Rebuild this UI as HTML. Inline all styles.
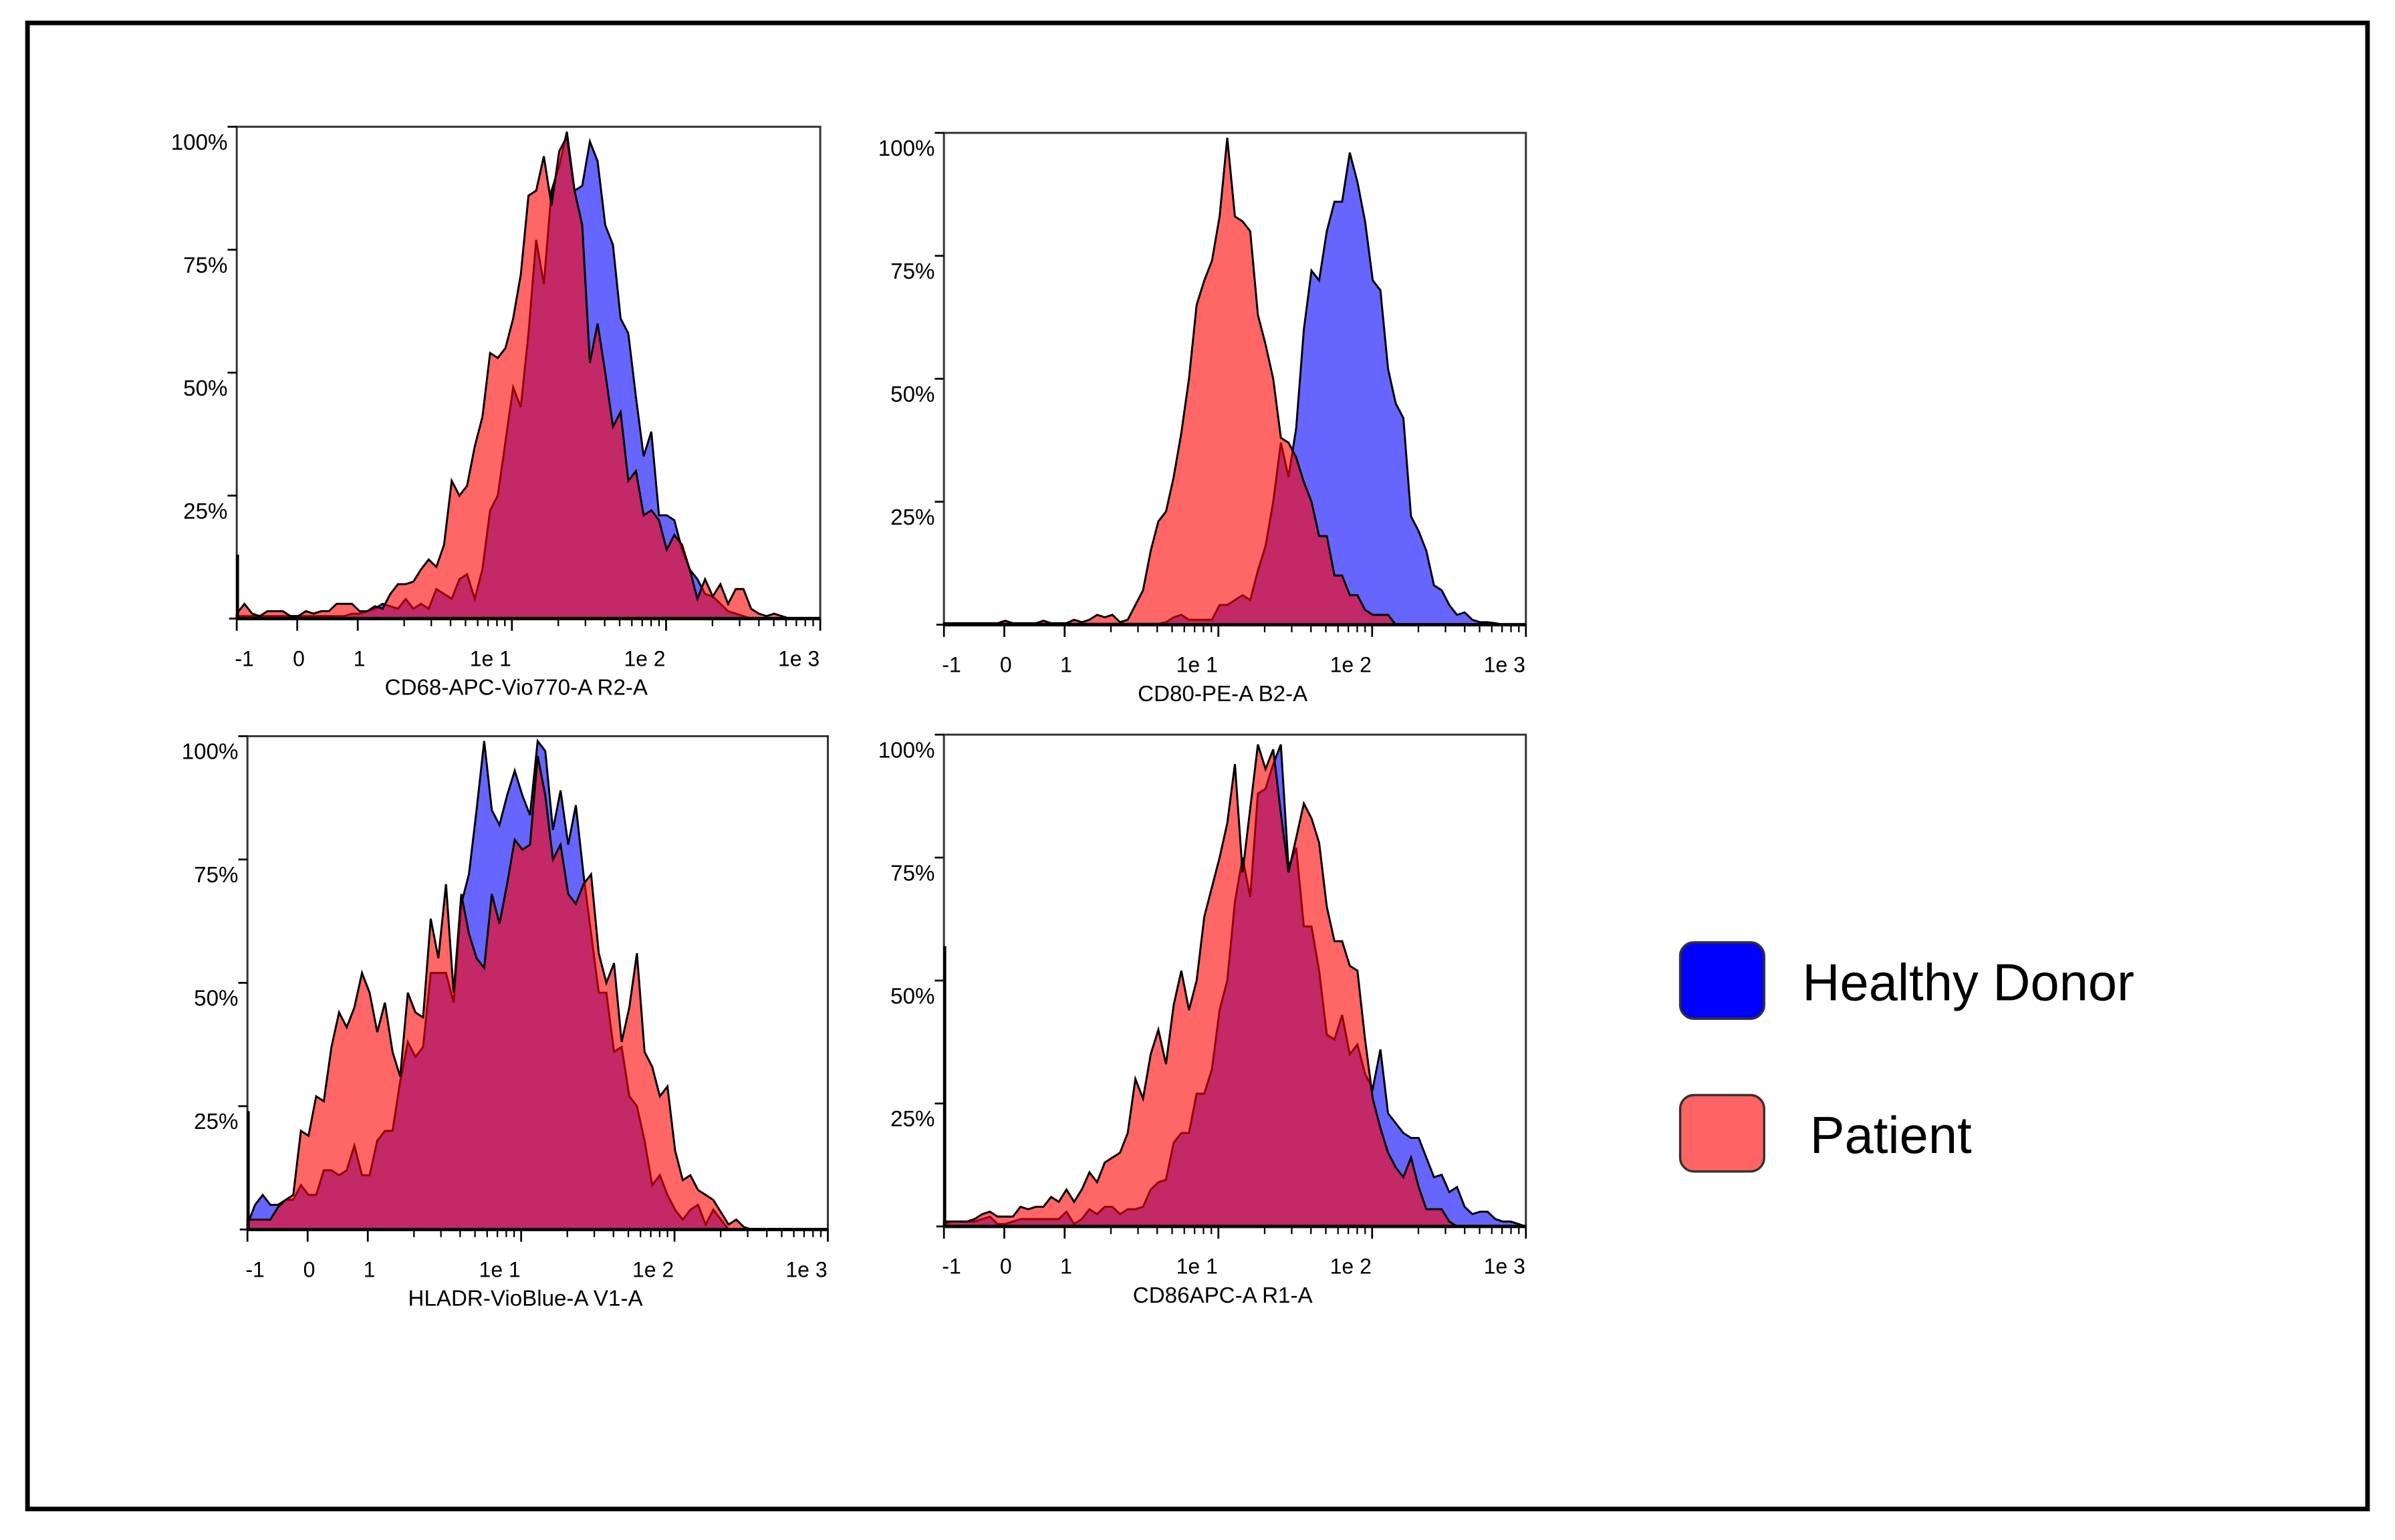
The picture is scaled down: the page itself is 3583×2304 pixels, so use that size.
<!DOCTYPE html>
<html><head><meta charset="utf-8">
<style>
html,body{margin:0;padding:0;background:#fff;}
svg{display:block;}
text{font-family:"Liberation Sans",sans-serif;fill:#000;}
</style></head>
<body>
<svg id="fig" xmlns="http://www.w3.org/2000/svg" width="3583" height="2304" viewBox="0 0 1568 1008.3" preserveAspectRatio="none">
<rect x="18" y="15" width="1532" height="973" fill="#fff" stroke="#000" stroke-width="3"/>
<g id="charts"></g>
<g>
<rect x="1100" y="617" width="55" height="50" rx="9" fill="#0000ff" stroke="#333" stroke-width="1.5"/>
<text x="1180" y="655" font-size="34">Healthy Donor</text>
<rect x="1100" y="717" width="55" height="50" rx="9" fill="#ff6464" stroke="#333" stroke-width="1.5"/>
<text x="1185" y="755" font-size="34">Patient</text>
</g>
</svg>
<script>
// bins: display-decade positions i*binStep from the left edge (value -1)
const binStep = 0.05;
const yTickValues = [25, 50, 75, 100];
const yTickLabels = ["25%", "50%", "75%", "100%"];
const xTickValues = [-1, 0, 1, 10, 100, 1000];
const xTickLabels = ["-1", "0", "1", "1e 1", "1e 2", "1e 3"];
const axisTitles = ["CD68-APC-Vio770-A R2-A", "CD80-PE-A B2-A", "HLADR-VioBlue-A V1-A", "CD86APC-A R1-A"];
const leftSpike = [13, 0, 24, 57];

const cd68Healthy = [0.5,0.5,0.5,0.5,0.5,0.5,0.5,0.5,0.5,0.5,0.5,0.5,0.5,0.5,0.5,1,1,1.5,2,3,2.5,2,4,2,3,2,6,5,4,8,9,4,10,22,25,36,47,43,58,77,68,87,92,99,87,88,97,93,80,76,61,58,45,33,38,21,21,20,14,10,8,5,4.5,3,1.5,1,0.5,0,0,0,0,0,0,0,0,0,0];
const cd68Patient = [1,3,1,0.5,1.5,1.5,1.5,0.5,0.5,1.5,1,1.5,1.5,3,3,3,1.5,1.5,2.5,2,5,7,7,7.5,10,12,10.5,15,28,25,27,35,41,54,53,55,61,70,86,87,94,84,95,98,87,80,52,60,50,39,42,28,30,21,22,20,14,17,15,10,4,8,4.5,7,3,6,6,2,1,0.5,1,0.5,0,0,0,0,0];
const cd80Healthy = [0.2,0.2,0.2,0.2,0.2,0.2,0.2,0.2,0.2,0.2,0.2,0.2,0.2,0.2,0.2,0.2,0.2,0.2,0.2,0.2,0.2,0.2,0.2,0.2,0.2,0.2,0.2,0.2,0.2,0.5,1.5,2,1,1,1,1,4,4,5,6,5,11,16,25,37,30,40,60,72,70,80,86,86,96,90,82,70,68,52,45,42,22,19,15,8,7,4,2,2.5,1,0.5,0.5,0.3,0,0,0,0];
const cd80Patient = [0.3,0.3,0.3,0.3,0.3,0.3,0.3,0.3,0.8,0.3,0.3,0.3,0.3,0.8,0.3,0.3,0.3,1,0.5,1,2,1.5,2,0.5,1,4,7,15,21,23,30,39,50,65,70,74,83,99,83,82,80,63,57,50,38,37,34,29,25,18,18,10,10,6,6,3,2,2,2,0,0,0,0,0,0,0,0,0,0,0,0,0,0,0,0,0,0];
const hladrHealthy = [1,5,7,5,5,6,6,9,7,7,12,12,11,12,17,11,11,18,20,20,30,38,35,37,52,52,52,46,66,72,85,99,85,82,88,93,88,84,99,97,81,89,78,86,72,60,48,48,36,37,27,25,18,9,11,7,4,2,4,5,1,4,2,0,0,0,0,0,0,0,0,0,0,0,0,0,0];
const hladrPatient = [2,2,2,2,4.5,6,7,20,19,27,26,37,44,41,45,52,48,40,46,36,31,48,44,43,63,55,70,48,68,60,55,53,68,62,70,79,77,78,96,88,75,78,68,66,70,72,56,50,54,38,45,56,36,33,27,29,16,10,11,8,7,6,3.5,1,2,0.5,0,0,0,0,0,0,0,0,0,0,0];
const cd86Healthy = [0.5,1,1,1,1,1.5,2,0.5,0.5,1,1.5,1.5,1.5,1.5,1.5,1.5,3,0.5,1.5,3.5,2.5,4,4,2.5,3.5,3.5,4,7.5,9,9.5,17,19,19,27,27,32,44,50,66,75,67,88,89,94,98,73,77,61,61,52,39,38,43,35,37,31,28,36,23,21,19,18,18,14,10,10.5,7,8,4,2.5,3,3,1.5,1,1,0.5,0];
const cd86Patient = [1,1,1,1,1.5,2.5,3,2,2,2,4,3.5,4,4,6,5,7.5,5,7.5,11,9,13,14,15,19,30,26,35,40,33,45,52,44,50,63,69,75,82,94,72,85,98,93,97,84,72,79,86,83,78,65,58,58,53,52,38,26,20,15,12,10,14,8,3.5,3.5,3.5,1,0,0,0,0,0,0,0,0,0,0];

const healthySeries = [cd68Healthy, cd80Healthy, hladrHealthy, cd86Healthy];
const patientSeries = [cd68Patient, cd80Patient, hladrPatient, cd86Patient];

const NS = "http://www.w3.org/2000/svg";
const boxes = [
  {L:155,R:537,T:83,B:405},
  {L:618,R:999,T:87,B:409},
  {L:162,R:542,T:482,B:805},
  {L:618,R:999,T:481,B:803}
];
const chartNames = ["cd68-histogram","cd80-histogram","hladr-histogram","cd86-histogram"];
const D_MAX = 3.80;
function valueToDecade(v){ return v <= 1 ? 0.394*(v+1) : 0.788 + 1.004*Math.log10(v); }
function mk(tag, attrs, parent){
  const el = document.createElementNS(NS, tag);
  for (const k in attrs) el.setAttribute(k, attrs[k]);
  parent.appendChild(el);
  return el;
}
const root = document.getElementById("charts");
boxes.forEach((b, ci) => {
  const g = mk("g", {}, root);
  
  
  const xD = d => b.L + d / D_MAX * (b.R - b.L);
  const xV = v => xD(valueToDecade(v));
  const yP = p => b.B - p / 100 * (b.B - b.T);

  const frame = mk("rect", {x:b.L, y:b.T, width:b.R-b.L, height:b.B-b.T, fill:"none", stroke:"#333", "stroke-width":1.3}, g);
  
  

  function areaPath(arr){
    let d = "M" + xD(0) + "," + yP(0);
    arr.forEach((v, i) => { d += " L" + xD(i*binStep).toFixed(2) + "," + yP(v).toFixed(2); });
    d += " L" + xD((arr.length-1)*binStep) + "," + yP(0) + " Z";
    return d;
  }
  const hp = mk("path", {d:areaPath(healthySeries[ci]), fill:"rgba(0,0,255,0.6)", stroke:"#000", "stroke-width":1.3, "stroke-linejoin":"miter"}, g);
  
  
  const pp = mk("path", {d:areaPath(patientSeries[ci]), fill:"rgba(255,0,0,0.6)", stroke:"#000", "stroke-width":1.3}, g);
  
  

  if (leftSpike[ci] > 0) {
    const sp = mk("line", {x1:b.L+0.5, x2:b.L+0.5, y1:yP(0), y2:yP(leftSpike[ci]), stroke:"#000", "stroke-width":2}, g);
    
    
  }
  const base = mk("line", {x1:b.L, x2:b.R, y1:b.B, y2:b.B, stroke:"#000", "stroke-width":2.2}, g);
  
  

  // y ticks
  mk("line", {x1:b.L-5, x2:b.L, y1:b.B, y2:b.B, stroke:"#000", "stroke-width":1.2}, g);
  yTickValues.forEach((v, k) => {
    const y = yP(v);
    const t = mk("line", {x1:b.L-6, x2:b.L, y1:y, y2:y, stroke:"#000", "stroke-width":1.2}, g);
    
    
    const lb = mk("text", {x:b.L-6, y:y+15, "font-size":14.5, "text-anchor":"end"}, g);
    lb.textContent = yTickLabels[k];
    
    
  });
  // x major ticks + labels
  xTickValues.forEach((v, k) => {
    const x = xV(v);
    const t = mk("line", {x1:x, x2:x, y1:b.B, y2:b.B+8, stroke:"#000", "stroke-width":1.2}, g);
    
    
    let lx = x + 1;
    if (k === 0) lx = x + 5;
    if (k >= 3) lx = x - 14;
    const lb = mk("text", {x:lx, y:b.B+31, "font-size":14, "text-anchor":"middle"}, g);
    lb.textContent = xTickLabels[k];
    
    
  });
  // minor log ticks
  [1,10,100].forEach(dec => {
    for (let m = 2; m <= 9; m++) {
      const x = xV(dec*m);
      const t = mk("line", {x1:x, x2:x, y1:b.B, y2:b.B+5, stroke:"#000", "stroke-width":1}, g);
      
      
    }
  });
  const title = mk("text", {x:(b.L+b.R)/2 - 8, y:b.B+50, "font-size":14.5, "text-anchor":"middle"}, g);
  title.textContent = axisTitles[ci];
  
  
});
</script>
</body></html>
